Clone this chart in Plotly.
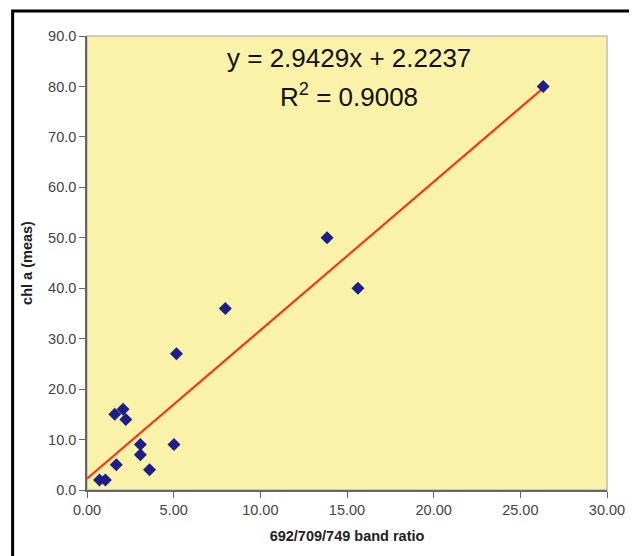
import plotly.graph_objects as go

# measured points: band ratio vs chl a
band_ratio = [0.72, 1.06, 1.60, 1.69, 2.08, 2.24, 3.08, 3.08, 3.61, 5.02, 5.16, 7.98, 13.85, 15.63, 26.32]
chl_a = [2, 2, 15, 5, 16, 14, 9, 7, 4, 9, 27, 36, 50, 40, 80]

# linear trendline as printed on the chart
slope = 2.9429
intercept = 2.2237
r_squared = 0.9008

trend_x = [0, max(band_ratio)]
trend_y = [slope * v + intercept for v in trend_x]

fig = go.Figure()

fig.add_trace(go.Scatter(
    x=trend_x, y=trend_y,
    mode='lines',
    line=dict(color='#F23A1A', width=2.2),
    hoverinfo='skip',
))

fig.add_trace(go.Scatter(
    x=band_ratio, y=chl_a,
    mode='markers',
    marker=dict(symbol='diamond', size=10, color='#1C1E8A'),
))

eq_font = dict(family='Arial, Liberation Sans', size=26, color='#111111')
fig.add_annotation(
    x=0.504, y=0.952, xref='paper', yref='paper',
    xanchor='center', yanchor='middle',
    text=f'y = {slope}x + {intercept}',
    showarrow=False, font=eq_font,
)
fig.add_annotation(
    x=0.504, y=0.870, xref='paper', yref='paper',
    xanchor='center', yanchor='middle',
    text=f'R<sup>2</sup> = {r_squared}',
    showarrow=False, font=eq_font,
)

# outer black frame (runs off the right and bottom edges)
fig.add_shape(type='rect', xref='paper', yref='paper',
              x0=-0.143, x1=1.2, y0=-0.3, y1=1.055,
              line=dict(color='black', width=3), layer='above')
# light grey border round the plot area
fig.add_shape(type='rect', xref='paper', yref='paper',
              x0=0, x1=1, y0=0, y1=1,
              line=dict(color='#BDBDBD', width=1.5), layer='below')

# the page body has an 8px margin, so the figure is 8px smaller each way
fig.update_layout(
    width=629, height=548,
    margin=dict(l=78.5, r=23.6, t=28, b=66),
    paper_bgcolor='white',
    plot_bgcolor='#FAF2A8',
    showlegend=False,
    font=dict(family='Arial, Liberation Sans', color='#333333'),
    xaxis=dict(
        range=[0, 30], dtick=5, tickformat='.2f',
        showgrid=False, zeroline=False,
        showline=True, linecolor='#666666', linewidth=1.5,
        ticks='outside', ticklen=6, tickcolor='#666666',
        tickfont=dict(size=14.5, color='#444444'),
        title=dict(text='<b>692/709/749 band ratio</b>', font=dict(size=14.5, color='#222222'), standoff=14),
    ),
    yaxis=dict(
        range=[0, 90], dtick=10, tickformat='.1f',
        showgrid=False, zeroline=False,
        showline=True, linecolor='#666666', linewidth=1.5,
        ticks='outside', ticklen=6, tickcolor='#666666',
        tickfont=dict(size=14.5, color='#444444'),
        title=dict(text='<b>chl a (meas)</b>', font=dict(size=14.5, color='#222222'), standoff=12),
    ),
)

fig.write_html("out.html")
